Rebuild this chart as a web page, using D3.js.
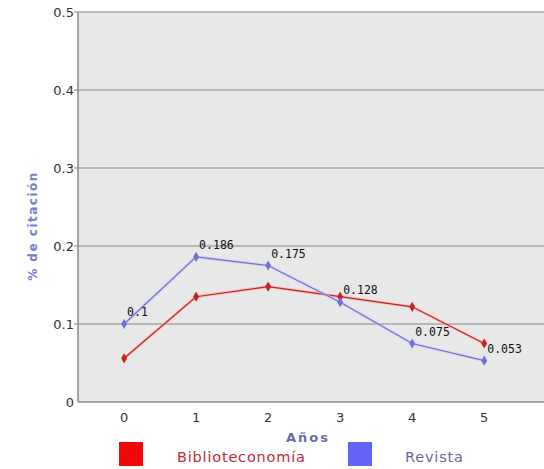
<!DOCTYPE html>
<html><head><meta charset="utf-8">
<script src="https://cdn.jsdelivr.net/npm/d3@7"></script>
<style>body{margin:0;background:#fff}svg{display:block}</style>
</head><body>
<script>
const years = [0, 1, 2, 3, 4, 5];
const biblioteconomia = [0.056, 0.135, 0.148, 0.135, 0.122, 0.075];
const revista = [0.1, 0.186, 0.175, 0.128, 0.075, 0.053];
const revistaLabels = ["0.1", "0.186", "0.175", "0.128", "0.075", "0.053"];
const yTicks = [0, 0.1, 0.2, 0.3, 0.4, 0.5];
const yTickLabels = ["0", "0.1", "0.2", "0.3", "0.4", "0.5"];
const seriesNames = ["Biblioteconomía", "Revista"];

(function () {
const W = 544, H = 469;
const svg = d3.select("body").append("svg").attr("width", W).attr("height", H);
const pL = 78, pR = 560, pT = 12, pB = 402;
const x = d3.scaleLinear().domain([-0.64, 5.83]).range([pL, 544]);
const y = d3.scaleLinear().domain([0, 0.5]).range([pB, pT]);

svg.append("rect").attr("x", pL).attr("y", pT).attr("width", pR - pL).attr("height", pB - pT).attr("fill", "#e8e8e8");

// gridlines
svg.append("g").selectAll("line").data(yTicks.slice(1)).join("line")
  .attr("x1", pL - 4).attr("x2", pR)
  .attr("y1", d => y(d)).attr("y2", d => y(d))
  .attr("stroke", "#858585").attr("stroke-width", 1.2);

// axes lines
svg.append("line").attr("x1", pL).attr("x2", pL).attr("y1", pT).attr("y2", pB).attr("stroke", "#8a8a8a").attr("stroke-width", 1.5);
svg.append("line").attr("x1", pL).attr("x2", pR).attr("y1", pB).attr("y2", pB).attr("stroke", "#8a8a8a").attr("stroke-width", 1.5);

// y tick labels
svg.append("g").selectAll("text").data(yTicks).join("text")
  .attr("x", pL - 4).attr("y", d => y(d)).attr("dy", "0.35em")
  .attr("text-anchor", "end").attr("font-family", "DejaVu Sans, sans-serif").attr("font-size", 13).attr("fill", "#333")
  .text((d, i) => yTickLabels[i]);

// x tick labels
svg.append("g").selectAll("text").data(years).join("text")
  .attr("x", d => x(d)).attr("y", 422)
  .attr("text-anchor", "middle").attr("font-family", "DejaVu Sans, sans-serif").attr("font-size", 13).attr("fill", "#333")
  .text(d => d);

// axis titles
svg.append("text").attr("transform", `translate(37,226) rotate(-90)`)
  .attr("text-anchor", "middle").attr("font-family", "DejaVu Sans, sans-serif").attr("font-size", 12).attr("font-weight", "bold")
  .attr("letter-spacing", 1.5).attr("fill", "#7a7ad0").text("% de citación");
svg.append("text").attr("x", 308).attr("y", 442).attr("text-anchor", "middle")
  .attr("font-family", "DejaVu Sans, sans-serif").attr("font-size", 13).attr("font-weight", "bold")
  .attr("letter-spacing", 2).attr("fill", "#6a6aaa").text("Años");

const line = d3.line().x((d, i) => x(years[i])).y(d => y(d));
const series = [
  {vals: biblioteconomia, color: "#cc2020", halo: "#f4a8a8"},
  {vals: revista, color: "#7070dd", halo: "#c8c8f0"}
];
const diamond = d3.symbol().type(d3.symbolDiamond).size(30);
series.forEach(s => {
  svg.append("path").datum(s.vals).attr("d", line).attr("fill", "none").attr("stroke", s.halo).attr("stroke-width", 3).attr("opacity", 0.6);
  svg.append("path").datum(s.vals).attr("d", line).attr("fill", "none").attr("stroke", s.color).attr("stroke-width", 1.2);
  svg.append("g").selectAll("path").data(s.vals).join("path")
    .attr("transform", (d, i) => `translate(${x(years[i])},${y(d)})`)
    .attr("d", diamond).attr("fill", s.color);
});

// value labels
svg.append("g").selectAll("text").data(revista).join("text")
  .attr("x", (d, i) => x(years[i]) + 3).attr("y", d => y(d) - 8)
  .attr("font-family", "DejaVu Sans Mono, monospace").attr("font-size", 11.5).attr("fill", "#111")
  .text((d, i) => revistaLabels[i]);

// legend
const legend = [
  {name: seriesNames[0], sq: "#ee0a0a", tx: "#c02a3a", sx: 119, tx0: 177},
  {name: seriesNames[1], sq: "#6464f8", tx: "#6a6a9a", sx: 348, tx0: 405}
];
legend.forEach(l => {
  svg.append("rect").attr("x", l.sx).attr("y", 442).attr("width", 24).attr("height", 24).attr("fill", l.sq);
  svg.append("text").attr("x", l.tx0).attr("y", 462).attr("font-family", "DejaVu Sans, sans-serif").attr("font-size", 14.5)
    .attr("letter-spacing", 0.8).attr("fill", l.tx).text(l.name);
});
})();
</script>
</body></html>
